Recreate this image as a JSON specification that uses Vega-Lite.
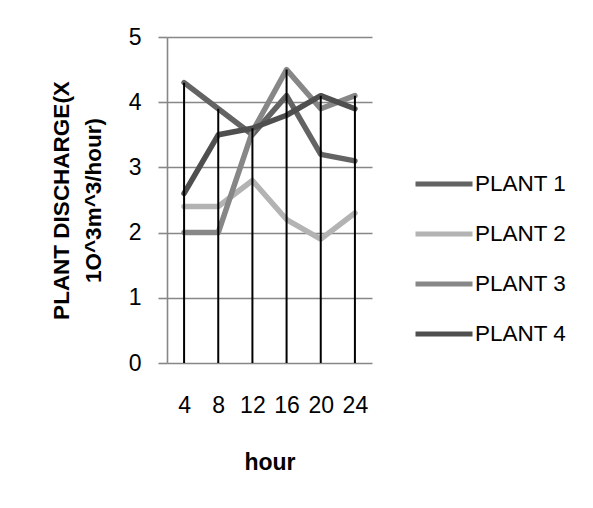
{
  "$schema": "https://vega.github.io/schema/vega-lite/v6.json",
  "autosize": "none",
  "padding": {"left": 167, "top": 37, "right": 221, "bottom": 145},
  "width": 205,
  "height": 326,
  "background": "white",
  "config": {"font": "Liberation Sans", "view": {"stroke": null}},
  "data": {
    "values": [
      {"hour": 4, "plant": "PLANT 1", "value": 4.3},
      {"hour": 8, "plant": "PLANT 1", "value": 3.9},
      {"hour": 12, "plant": "PLANT 1", "value": 3.5},
      {"hour": 16, "plant": "PLANT 1", "value": 4.1},
      {"hour": 20, "plant": "PLANT 1", "value": 3.2},
      {"hour": 24, "plant": "PLANT 1", "value": 3.1},
      {"hour": 4, "plant": "PLANT 2", "value": 2.4},
      {"hour": 8, "plant": "PLANT 2", "value": 2.4},
      {"hour": 12, "plant": "PLANT 2", "value": 2.8},
      {"hour": 16, "plant": "PLANT 2", "value": 2.2},
      {"hour": 20, "plant": "PLANT 2", "value": 1.9},
      {"hour": 24, "plant": "PLANT 2", "value": 2.3},
      {"hour": 4, "plant": "PLANT 3", "value": 2.0},
      {"hour": 8, "plant": "PLANT 3", "value": 2.0},
      {"hour": 12, "plant": "PLANT 3", "value": 3.55},
      {"hour": 16, "plant": "PLANT 3", "value": 4.5},
      {"hour": 20, "plant": "PLANT 3", "value": 3.9},
      {"hour": 24, "plant": "PLANT 3", "value": 4.1},
      {"hour": 4, "plant": "PLANT 4", "value": 2.6},
      {"hour": 8, "plant": "PLANT 4", "value": 3.5},
      {"hour": 12, "plant": "PLANT 4", "value": 3.6},
      {"hour": 16, "plant": "PLANT 4", "value": 3.8},
      {"hour": 20, "plant": "PLANT 4", "value": 4.1},
      {"hour": 24, "plant": "PLANT 4", "value": 3.9}
    ]
  },
  "layer": [
    {
      "mark": {"type": "line", "strokeWidth": 5.5, "strokeCap": "round", "strokeJoin": "round"},
      "encoding": {
        "x": {
          "field": "hour",
          "type": "ordinal",
          "scale": {"type": "point", "padding": 0.5},
          "axis": {
            "labelAngle": 0,
            "labelFontSize": 23,
            "labelColor": "black",
            "labelPadding": 31,
            "labelOverlap": false,
            "ticks": false,
            "domain": false,
            "grid": false,
            "title": "hour",
            "titleFontSize": 23,
            "titleFontWeight": "bold",
            "titleColor": "black",
            "titlePadding": 34
          }
        },
        "y": {
          "field": "value",
          "type": "quantitative",
          "scale": {"domain": [0, 5], "nice": false},
          "axis": {
            "values": [0, 1, 2, 3, 4, 5],
            "format": "d",
            "grid": true,
            "gridColor": "#878787",
            "gridWidth": 1.6,
            "gridOpacity": 1,
            "domainColor": "#878787",
            "domainWidth": 1.6,
            "tickColor": "#878787",
            "tickWidth": 1.6,
            "tickSize": 9,
            "labelFontSize": 23,
            "labelColor": "black",
            "labelPadding": 17,
            "title": ["PLANT DISCHARGE(X", "1O^3m^3/hour)"],
            "titleFontSize": 22.5,
            "titleFontWeight": "bold",
            "titleColor": "black",
            "titleLineHeight": 32,
            "titlePadding": 23
          }
        },
        "color": {
          "field": "plant",
          "type": "nominal",
          "scale": {
            "domain": ["PLANT 1", "PLANT 2", "PLANT 3", "PLANT 4"],
            "range": ["#636363", "#b3b3b3", "#878787", "#4f4f4f"]
          },
          "legend": {
            "orient": "none",
            "legendX": 246,
            "legendY": 116,
            "title": null,
            "padding": 0,
            "symbolType": "stroke",
            "symbolSize": 3249,
            "symbolStrokeWidth": 5,
            "labelFontSize": 22.5,
            "labelColor": "black",
            "labelOffset": 0,
            "rowPadding": 7
          }
        }
      }
    },
    {
      "mark": {"type": "rule", "color": "black", "strokeWidth": 2},
      "encoding": {
        "x": {"field": "hour", "type": "ordinal"},
        "y": {"aggregate": "max", "field": "value", "type": "quantitative"},
        "y2": {"datum": 0}
      }
    }
  ]
}
